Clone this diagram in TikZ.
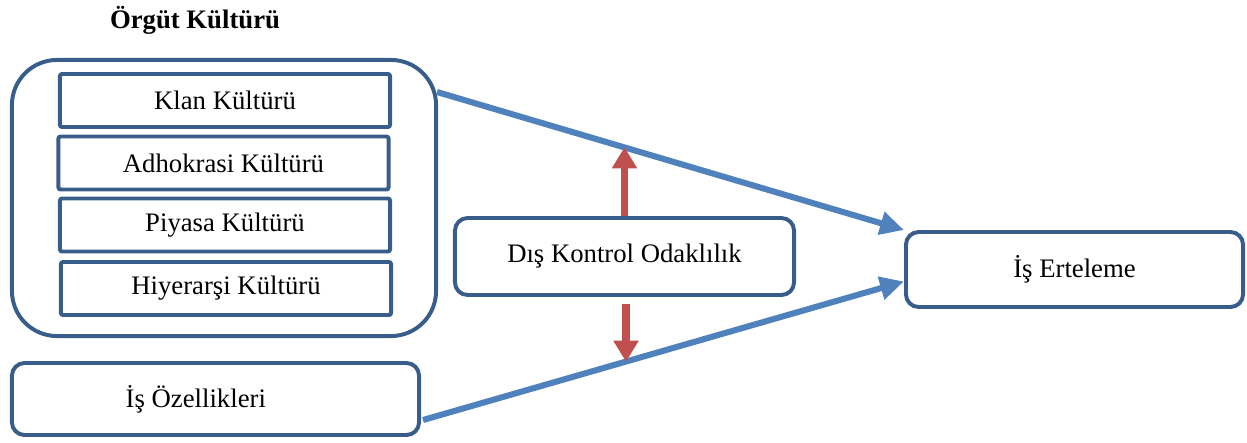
\documentclass[tikz,border=0pt]{standalone}
\usepackage{fontspec}
\setmainfont{Liberation Serif}
\usetikzlibrary{arrows.meta, calc}
\definecolor{frameblue}{HTML}{385D8A}
\definecolor{linkblue}{HTML}{4F81BD}
\definecolor{modred}{HTML}{C0504D}

\begin{document}
\begin{tikzpicture}[x=0.025cm, y=-0.025cm,
  every node/.style={font=\fontsize{19}{23}\selectfont, text=black},
  culture/.style={draw=frameblue, line width=2.8pt, rounded corners=1.5pt,
    minimum width=8.25cm, minimum height=1.325cm, inner sep=0pt},
  block/.style={draw=frameblue, line width=2.8pt, rounded corners=9pt,
    fill=white, inner sep=0pt},
  link/.style={linkblue, line width=4.3pt, -{Triangle[length=17pt, width=16pt]}},
  moderate/.style={modred, line width=5.5pt, -{Triangle[length=15pt, width=17pt]}}]

% Canvas
\useasboundingbox (0,0) rectangle (1247,442);

% Title
\node[font=\fontsize{19}{23}\selectfont\bfseries] (title) at (195,20) {Örgüt Kültürü};

% ================================================================
% LEFT: culture group and job features
% ================================================================
\node[block, rounded corners=32pt, fill=none,
      minimum width=10.6cm, minimum height=6.9cm] (org) at (224,198) {};

\node[culture] (klan)  at (225,100.5) {Klan Kültürü};
\node[culture] (adhok) at (223.5,163) {Adhokrasi Kültürü};
\node[culture] (piyasa) at (225,225) {Piyasa Kültürü};
\node[culture] (hiyer) at (226,288.5) {Hiyerarşi Kültürü};

\node[block, minimum width=10.175cm, minimum height=1.8cm] (ozel) at (215.5,399)
  {İş Özellikleri\hspace*{28pt}};

% ================================================================
% MIDDLE and RIGHT
% ================================================================
\node[block, minimum width=8.475cm, minimum height=1.925cm] (dis) at (624.5,256.5)
  {Dış Kontrol Odaklılık};

\node[block, minimum width=8.425cm, minimum height=1.875cm] (ert) at (1074.5,269.5)
  {İş Erteleme};

% Link end points
\coordinate (s1) at ($(org.east)+(-1,-106)$);
\coordinate (s2) at ($(ozel.east)+(2,21)$);
\coordinate (e2) at ($(ert.west)+(0,12)$);

% Main links
\draw[link] (s1) -- (ert.north west);
\draw[link] (s2) -- (e2);

% Moderator arrows (tips on the links)
\coordinate (m1) at ($(s1)!0.4!(ert.north west)$);
\coordinate (m2) at ($(s2)!0.42!(e2)$);
\draw[moderate] (dis.north) -- (dis.north |- m1);
\draw[moderate] ($(dis.south)+(1.5,7)$) -- ($(dis.south |- m2)+(1.5,0)$);

\end{tikzpicture}
\end{document}
